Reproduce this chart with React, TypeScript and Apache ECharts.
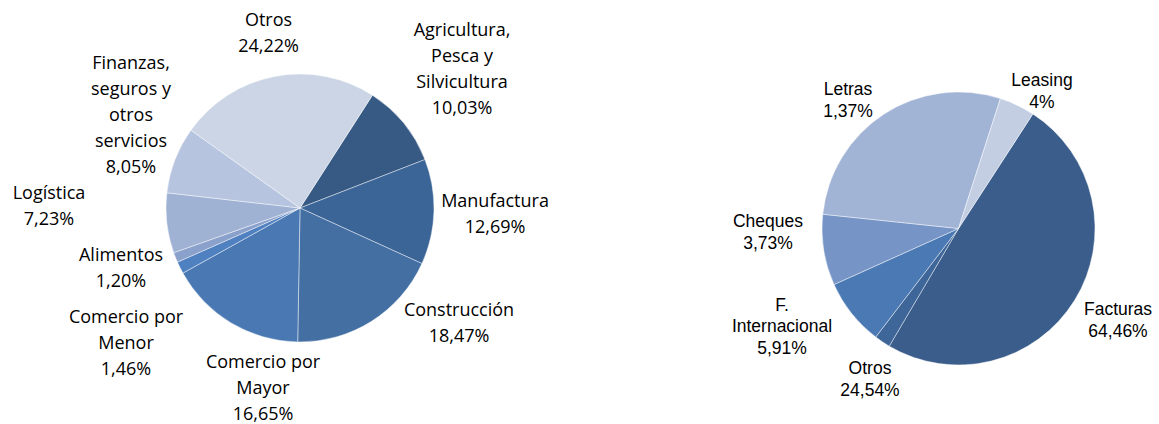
import React, { useEffect, useRef } from "react";
import * as echarts from "echarts";

// Left pie: sectors (clockwise)
const sectorNames = [
  "Agricultura,\nPesca y\nSilvicultura",
  "Manufactura",
  "Construcción",
  "Comercio por\nMayor",
  "Comercio por\nMenor",
  "Alimentos",
  "Logística",
  "Finanzas,\nseguros y\notros\nservicios",
  "Otros",
];
const sectorValues = [10.03, 12.69, 18.47, 16.65, 1.46, 1.2, 7.23, 8.05, 24.22];

// Right pie: instruments (clockwise). Slice sizes as drawn; label texts as printed.
const instrumentNames = ["Facturas", "Otros", "F.\nInternacional", "Cheques", "Letras", "Leasing"];
const instrumentValues = [49.3, 1.9, 7.9, 8.4, 28.3, 4.2];
const instrumentLabels = ["64,46%", "24,54%", "5,91%", "3,73%", "1,37%", "4%"];

// Styling / layout (not data)
const leftColors = ["#375a85", "#3b6497", "#446fa3", "#4a78b2", "#4f80c0", "#8aa1cb", "#a0b2d4", "#b6c4df", "#cbd5e6"];
const rightColors = ["#3a5d8b", "#3e6699", "#4a79b3", "#7695c6", "#a1b4d6", "#c3cee3"];
const leftCenter = [300, 208];
const rightCenter = [958.5, 228.5];
const leftLabelOffsets = [
  [162, -140.5], [195, 5], [159, 114], [-37, 179], [-174, 134], [-179, 59], [-251, -3], [-169, -94], [-31.5, -176],
];
const rightLabelOffsets = [
  [159.5, 91.5], [-88.5, 150.5], [-176.5, 97.5], [-190.5, 3.5], [-110.5, -128.5], [83.5, -137.5],
];

const fmt = (v: number) => v.toFixed(2).replace(".", ",") + "%";

export default function App() {
  const ref = useRef<HTMLDivElement>(null);
  useEffect(() => {
    document.body.style.margin = "0";
    const chart = echarts.init(ref.current!, null, { renderer: "svg" });
    chart.setOption({
      animation: false,
      backgroundColor: "#ffffff",
      series: [
        {
          type: "pie",
          center: leftCenter,
          radius: 134,
          startAngle: 57.3,
          clockwise: true,
          avoidLabelOverlap: false,
          silent: true,
          data: sectorNames.map((n, i) => ({
            name: n,
            value: sectorValues[i],
            itemStyle: { color: leftColors[i] },
          })),
          itemStyle: { borderColor: "rgba(255,255,255,0.55)", borderWidth: 0.8 },
          label: {
            show: true,
            position: "outside",
            formatter: (p: any) => `${p.name}\n${fmt(p.value)}`,
            fontFamily: "Open Sans",
            fontSize: 18,
            lineHeight: 26,
            color: "#000",
            align: "center",
          },
          labelLine: { show: false },
          labelLayout: (p: any) => ({
            x: leftCenter[0] + leftLabelOffsets[p.dataIndex][0],
            y: leftCenter[1] + leftLabelOffsets[p.dataIndex][1],
            align: "center",
            verticalAlign: "middle",
          }),
        },
        {
          type: "pie",
          center: rightCenter,
          radius: 136.5,
          startAngle: 57,
          clockwise: true,
          avoidLabelOverlap: false,
          silent: true,
          data: instrumentNames.map((n, i) => ({
            name: n,
            value: instrumentValues[i],
            itemStyle: { color: rightColors[i] },
          })),
          itemStyle: { borderColor: "rgba(255,255,255,0.55)", borderWidth: 0.8 },
          label: {
            show: true,
            position: "outside",
            formatter: (p: any) => `${p.name}\n${instrumentLabels[p.dataIndex]}`,
            fontFamily: "Liberation Sans",
            fontSize: 17.5,
            lineHeight: 21.5,
            color: "#000",
            align: "center",
          },
          labelLine: { show: false },
          labelLayout: (p: any) => ({
            x: rightCenter[0] + rightLabelOffsets[p.dataIndex][0],
            y: rightCenter[1] + rightLabelOffsets[p.dataIndex][1],
            align: "center",
            verticalAlign: "middle",
          }),
        },
      ],
    });
    return () => chart.dispose();
  }, []);
  return <div ref={ref} style={{ width: 1159, height: 424 }} />;
}
